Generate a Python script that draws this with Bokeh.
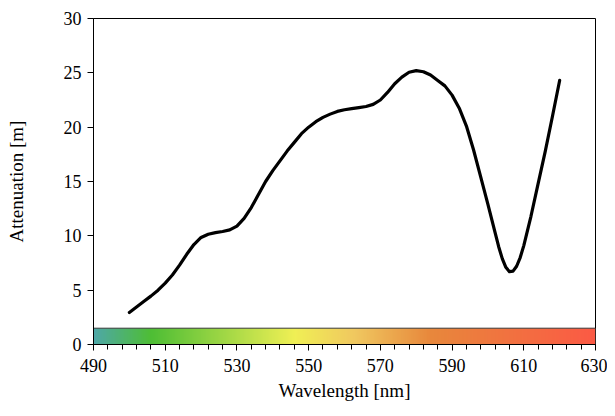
import numpy as np
from bokeh.plotting import figure
from bokeh.models import Range1d, FixedTicker
from bokeh.embed import file_html
from bokeh.resources import INLINE

# Data
wavelength = [500, 502, 504, 506, 508, 510, 512, 514, 516, 518, 520, 522, 524, 526, 528,
              530, 532, 534, 536, 538, 540, 542, 544, 546, 548, 550, 552, 554, 556, 558,
              560, 562, 564, 566, 568, 570, 572, 574, 576, 578, 580, 582, 584, 586, 588,
              590, 592, 594, 596, 598, 600, 602, 603, 604, 605, 606, 607, 608, 609, 610,
              612, 614, 616, 618, 620]
attenuation = [2.95, 3.45, 3.95, 4.45, 5.0, 5.65, 6.4, 7.3, 8.3, 9.2, 9.85, 10.15, 10.3, 10.4, 10.55,
               10.9, 11.6, 12.6, 13.8, 15.0, 16.0, 16.9, 17.8, 18.6, 19.4, 20.0, 20.5, 20.9, 21.2, 21.45,
               21.6, 21.7, 21.8, 21.9, 22.1, 22.5, 23.2, 24.0, 24.6, 25.05, 25.2, 25.1, 24.8, 24.3, 23.8,
               22.95, 21.75, 20.1, 17.9, 15.4, 12.9, 10.3, 9.0, 7.9, 7.1, 6.7, 6.75, 7.2, 8.0, 9.1,
               11.8, 14.8, 17.8, 21.0, 24.3]

x_ticks = [490, 510, 530, 550, 570, 590, 610, 630]
y_ticks = [0, 5, 10, 15, 20, 25, 30]

# spectrum colour stops for the wavelength bar
stop_nm = [490, 506, 546, 563, 584, 630]
stop_rgb = [(79, 168, 168), (78, 190, 53), (240, 240, 85), (240, 200, 96), (232, 136, 60), (252, 90, 69)]
bar_top = 1.5

FONT = "Liberation Serif"

p = figure(width=607, height=408, output_backend="svg", toolbar_location=None,
           x_range=Range1d(490, 630), y_range=Range1d(0, 30),
           min_border_left=93, min_border_right=12, min_border_top=18, min_border_bottom=64)

# colour bar as a single gradient image
n = 560
xs = np.linspace(490, 630, n)
img = np.zeros((1, n), dtype=np.uint32)
view = img.view(dtype=np.uint8).reshape((1, n, 4))
for k in range(3):
    view[0, :, k] = np.interp(xs, stop_nm, [c[k] for c in stop_rgb]).astype(np.uint8)
view[0, :, 3] = 255
p.image_rgba(image=[img], x=490, y=0, dw=140, dh=bar_top)
p.quad(left=[490], right=[630], bottom=[0], top=[bar_top], fill_color=None,
       line_color="#3a3a3a", line_width=1)

p.line(wavelength, attenuation, line_color="black", line_width=3.2, line_join="round", line_cap="round")

p.grid.visible = False
p.outline_line_color = "black"
p.outline_line_width = 1
p.background_fill_color = "white"
p.border_fill_color = "white"

p.xaxis.ticker = FixedTicker(ticks=x_ticks, minor_ticks=list(range(490, 631, 4)))
p.yaxis.ticker = FixedTicker(ticks=y_ticks, minor_ticks=[])
for ax in (p.xaxis[0], p.yaxis[0]):
    ax.axis_line_color = "black"
    ax.major_tick_line_color = "black"
    ax.minor_tick_line_color = "black"
    ax.major_tick_out = 6
    ax.major_tick_in = 0
    ax.minor_tick_out = 5
    ax.minor_tick_in = 0
    ax.major_label_text_font = FONT
    ax.major_label_text_font_size = "18px"
    ax.major_label_text_color = "black"
    ax.axis_label_text_font = FONT
    ax.axis_label_text_font_size = "19px"
    ax.axis_label_text_font_style = "normal"
    ax.axis_label_text_color = "black"
p.yaxis[0].minor_tick_out = 0
p.xaxis.axis_label = "Wavelength [nm]"
p.yaxis.axis_label = "Attenuation [m]"
p.xaxis.major_label_standoff = 8
p.yaxis.major_label_standoff = 6
p.xaxis.axis_label_standoff = 5
p.yaxis.axis_label_standoff = 34

open("out.html", "w").write(file_html(p, INLINE))
